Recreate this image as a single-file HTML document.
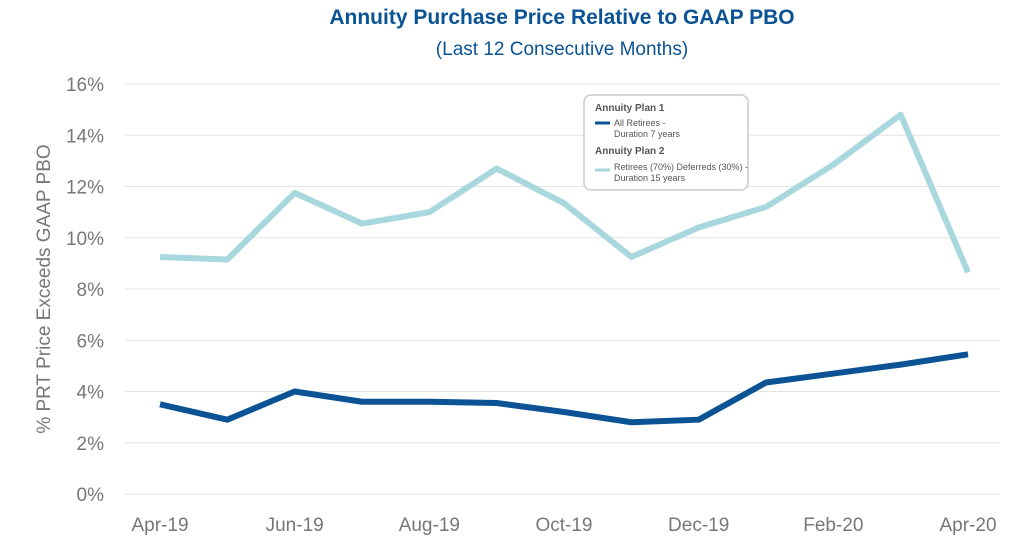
<!DOCTYPE html>
<html><head><meta charset="utf-8"><style>
body{margin:0;background:#fff;width:1024px;height:545px;overflow:hidden;font-family:"Liberation Sans",sans-serif}
svg text{font-family:"Liberation Sans",sans-serif}
</style></head><body>
<svg id="chart" width="1024" height="545" xmlns="http://www.w3.org/2000/svg">
<text x="562" y="24" text-anchor="middle" font-size="21" font-weight="bold" fill="#0b5394">Annuity Purchase Price Relative to GAAP PBO</text>
<text x="562" y="55" text-anchor="middle" font-size="19" fill="#0b5394">(Last 12 Consecutive Months)</text>
<text transform="translate(50,289) rotate(-90)" text-anchor="middle" font-size="19" fill="#777">% PRT Price Exceeds GAAP PBO</text>
<g id="grid"></g><g id="series"></g>
<g>
<rect x="584" y="95" width="164" height="95" rx="7" fill="#fff" stroke="#ccc" stroke-width="1.5"/>
<text x="595" y="111" font-size="10" font-weight="bold" fill="#555">Annuity Plan 1</text>
<line x1="595" y1="123" x2="610" y2="123" stroke="#0b5394" stroke-width="3"/>
<text x="614" y="126" font-size="9" fill="#555">All Retirees -</text>
<text x="614" y="137" font-size="9" fill="#555">Duration 7 years</text>
<text x="595" y="154" font-size="10" font-weight="bold" fill="#555">Annuity Plan 2</text>
<line x1="595" y1="170" x2="610" y2="170" stroke="#a8d8de" stroke-width="3"/>
<text x="614" y="170" font-size="9" fill="#555">Retirees (70%) Deferreds (30%) -</text>
<text x="614" y="181" font-size="9" fill="#555">Duration 15 years</text>
</g>
</svg>
<script>
const months=["Apr-19","May-19","Jun-19","Jul-19","Aug-19","Sep-19","Oct-19","Nov-19","Dec-19","Jan-20","Feb-20","Mar-20","Apr-20"];
const plan1=[3.5,2.9,4.0,3.6,3.6,3.55,3.2,2.8,2.9,4.35,4.7,5.05,5.45];
const plan2=[9.25,9.15,11.75,10.55,11.0,12.7,11.35,9.25,10.4,11.2,12.85,14.8,8.65];
const yTicks=[0,2,4,6,8,10,12,14,16];
const xLabelIdx=[0,2,4,6,8,10,12];
const NS="http://www.w3.org/2000/svg";
const x=i=>160+i*(968-160)/12;
const y=v=>494-v*(494-84)/16;
const grid=document.getElementById('grid'),ser=document.getElementById('series');
function mk(t,a,p){const e=document.createElementNS(NS,t);for(const k in a)e.setAttribute(k,a[k]);p.appendChild(e);return e;}
yTicks.forEach(t=>{
 const l=mk('line',{x1:125,x2:1000,y1:y(t),y2:y(t),stroke:'#e3e3e3','stroke-width':1},grid);
 
 
 const tx=mk('text',{x:104,y:y(t)+7,'text-anchor':'end','font-size':19,fill:'#777'},grid);
 tx.textContent=t+'%';
 
 
});
xLabelIdx.forEach(i=>{
 const tx=mk('text',{x:x(i),y:531,'text-anchor':'middle','font-size':19,fill:'#777'},grid);
 tx.textContent=months[i];
 
 
});
function line(vals,color,name){
 const p=mk('polyline',{points:vals.map((v,i)=>x(i)+','+y(v)).join(' '),fill:'none',stroke:color,'stroke-width':6,'stroke-linejoin':'round'},ser);
 
 
}
line(plan2,'#a8d8de','plan2-line');
line(plan1,'#0b5394','plan1-line');
</script>
</body></html>
